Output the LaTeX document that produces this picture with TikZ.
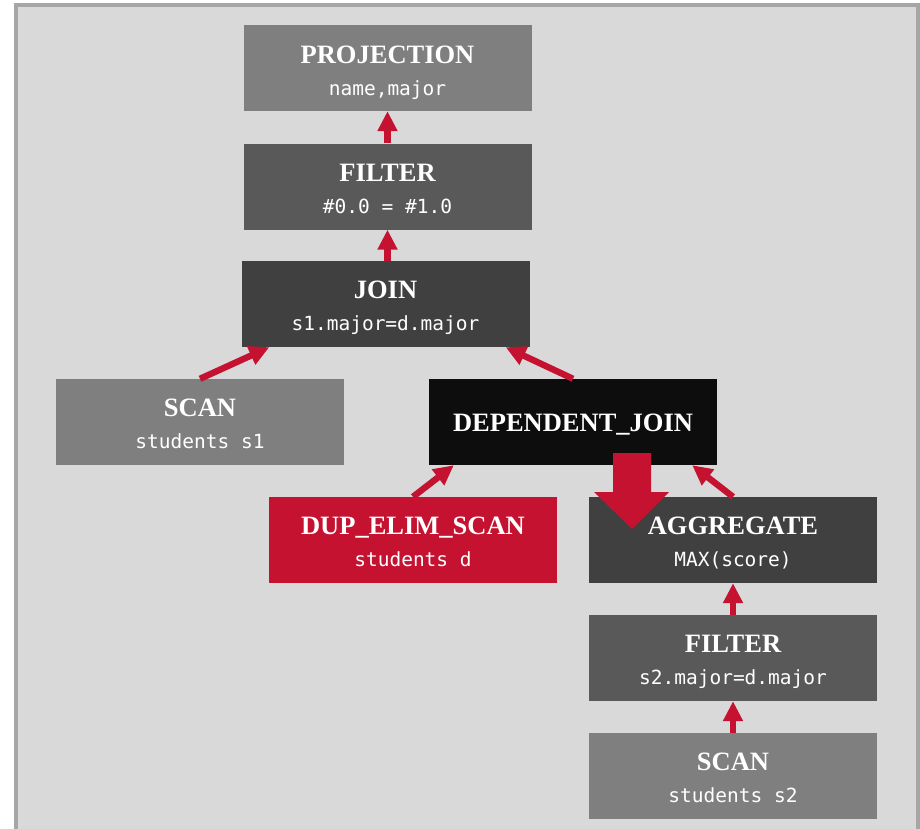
\documentclass[tikz,border=0pt]{standalone}
\usepackage{fontspec}
\setmainfont{Liberation Serif}
\setmonofont{DejaVu Sans Mono}
\usetikzlibrary{arrows.meta}
\definecolor{frame}{HTML}{A6A6A6}
\definecolor{panel}{HTML}{D9D9D9}
\definecolor{opA}{HTML}{7F7F7F}
\definecolor{opB}{HTML}{595959}
\definecolor{opC}{HTML}{404040}
\definecolor{opD}{HTML}{0D0D0D}
\definecolor{hot}{HTML}{C41230}
\begin{document}
\begin{tikzpicture}[x=1pt,y=-1pt,
  opbox/.style={rectangle, minimum width=288pt, minimum height=86pt, inner sep=0pt, draw=none},
  ttl/.style={anchor=base, text=white, inner sep=0pt, font=\fontsize{26.5}{30}\selectfont\bfseries},
  sub/.style={anchor=base, text=white, inner sep=0pt, font=\fontsize{19.5}{22}\selectfont\ttfamily},
  flow/.style={draw=hot, line width=6.4pt, -{Triangle[length=20pt,width=19pt]}}]
\useasboundingbox (0,0) rectangle (920,828);
% panel with frame
\fill[white] (0,0) rectangle (920,828);
\fill[frame] (14,3) rectangle (924,832);
\fill[panel] (18,7) rectangle (916,832);

% operator boxes
\node[opbox, fill=opA] (proj)  at (387.5,68)  {};
\node[opbox, fill=opB] (filt)  at (387.5,186.5) {};
\node[opbox, fill=opC] (join)  at (385.5,304) {};
\node[opbox, fill=opA] (scanA) at (200,422)   {};
\node[opbox, fill=opD] (depj)  at (573,422)   {};
\node[opbox, fill=hot] (dup)   at (413,540)   {};
\node[opbox, fill=opC] (agg)   at (733,540)   {};
\node[opbox, fill=opB] (filtB) at (733,658)   {};
\node[opbox, fill=opA] (scanB) at (733,776)   {};

% data flow
\draw[flow] (filt.north) -- (proj.south);
\draw[flow] (join.north -| filt.south) -- (filt.south);
\draw[flow] (scanA.north) -- ([xshift=28pt]join.south west);
\draw[flow] (depj.north) -- ([xshift=-24pt]join.south east);
\draw[flow] (dup.north) -- ([xshift=25pt]depj.south west);
\draw[flow] (agg.north) -- ([xshift=-25pt]depj.south east);
\draw[flow] (filtB.north) -- (agg.south);
\draw[flow] (scanB.north) -- (filtB.south);

% parameter passing into the dependent side
\fill[hot] (613,453) -- (651,453) -- (651,492) -- (669,492) -- (632,529)
  -- (594,492) -- (613,492) -- cycle;

% labels
\node[ttl] (projT)  at (387.5,63)  {PROJECTION};
\node[sub] (projS)  at (387.5,95)  {name,major};
\node[ttl] (filtT)  at (387.5,181) {FILTER};
\node[sub] (filtS)  at (387.5,213) {\#0.0 = \#1.0};
\node[ttl] (joinT)  at (385.5,298) {JOIN};
\node[sub] (joinS)  at (385.5,330) {s1.major=d.major};
\node[ttl] (scanAT) at (200,416)   {SCAN};
\node[sub] (scanAS) at (200,448)   {students s1};
\node[ttl] (depjT)  at (573,431)   {DEPENDENT\_JOIN};
\node[ttl] (dupT)   at (413,534)   {DUP\_ELIM\_SCAN};
\node[sub] (dupS)   at (413,566)   {students d};
\node[ttl] (aggT)   at (733,534)   {AGGREGATE};
\node[sub] (aggS)   at (733,566)   {MAX(score)};
\node[ttl] (filtBT) at (733,652)   {FILTER};
\node[sub] (filtBS) at (733,684)   {s2.major=d.major};
\node[ttl] (scanBT) at (733,770)   {SCAN};
\node[sub] (scanBS) at (733,802)   {students s2};
\end{tikzpicture}
\end{document}
